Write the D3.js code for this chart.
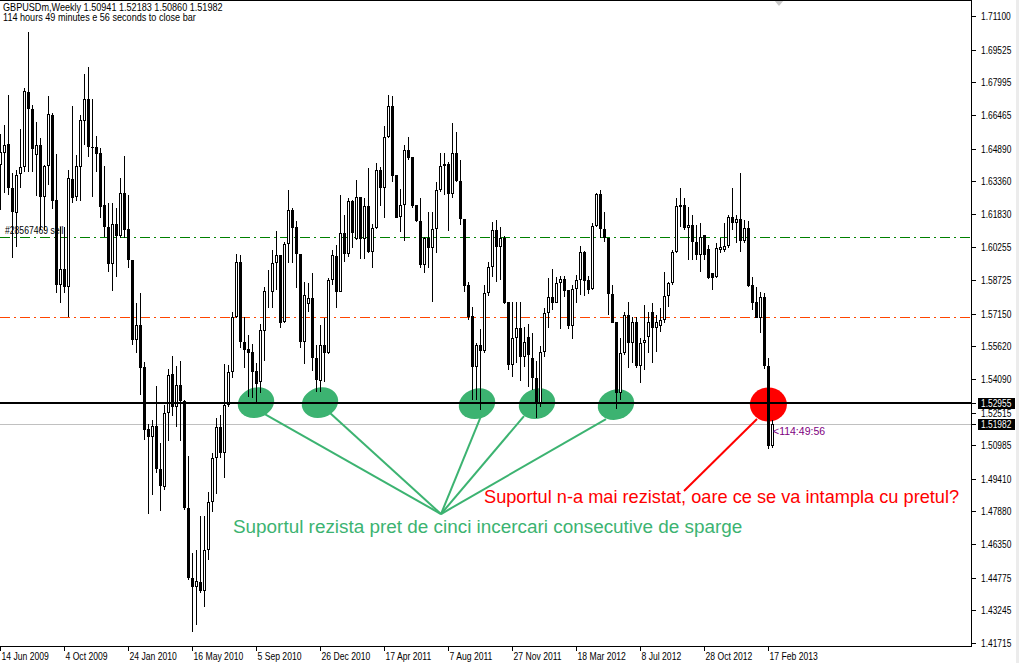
<!DOCTYPE html>
<html>
<head>
<meta charset="utf-8">
<script src="https://cdn.jsdelivr.net/npm/d3@7"></script>
<style>
  body { margin: 0; background: #fff; overflow: hidden; }
  svg { display: block; }
</style>
</head>
<body>
<svg id="chart" width="1019" height="663"></svg>
<script>
// GBPUSDm weekly candles, 14 Jun 2009 -> 24 Feb 2013 (one bar per week)
const openP = [
  1.6412,1.6468,1.6510,1.6304,1.6187,1.6369,1.6402,1.6754,1.6674,1.6459,
  1.6506,1.6262,1.6407,1.6647,1.6248,1.5850,1.5924,1.5840,1.6346,1.6262,
  1.6402,1.6618,1.6721,1.6496,1.6496,1.6468,1.6225,1.6121,1.5947,1.6135,
  1.6079,1.6281,1.6112,1.5966,1.5591,1.5662,1.5465,1.5175,1.5137,1.5188,
  1.4987,1.4902,1.5249,1.5432,1.5277,1.5381,1.5306,1.4804,1.4476,1.4434,
  1.4457,1.4415,1.4607,1.4832,1.5039,1.5184,1.5062,1.5287,1.5442,1.5699,
  1.5957,1.5582,1.5549,1.5536,1.5446,1.5395,1.5634,1.5817,1.5817,1.5952,
  1.5990,1.5676,1.6041,1.6201,1.6121,1.5995,1.5582,1.5760,1.5789,1.5507,
  1.5399,1.5568,1.5531,1.5873,1.5985,1.5817,1.6093,1.5995,1.6243,1.6065,
  1.6262,1.6065,1.6220,1.6004,1.6116,1.6388,1.6304,1.6543,1.6688,1.6365,
  1.6168,1.6225,1.6482,1.6449,1.6225,1.6149,1.5943,1.6069,1.6023,1.6112,
  1.6295,1.6407,1.6416,1.6276,1.6468,1.6337,1.6159,1.5850,1.5704,1.5465,
  1.5568,1.5540,1.5812,1.5934,1.6107,1.6027,1.6069,1.5770,1.5474,1.5601,
  1.5648,1.5512,1.5606,1.5507,1.5414,1.5296,1.5536,1.5718,1.5793,1.5765,
  1.5859,1.5878,1.5826,1.5657,1.5831,1.5873,1.6004,1.5873,1.5831,1.6126,
  1.6276,1.6112,1.6069,1.5807,1.5676,1.5343,1.5531,1.5709,1.5578,1.5676,
  1.5470,1.5578,1.5606,1.5723,1.5648,1.5657,1.5685,1.5798,1.5859,1.6004,
  1.6215,1.6225,1.6116,1.6130,1.6051,1.5990,1.6084,1.6018,1.5906,1.5887,
  1.6013,1.6013,1.6032,1.6168,1.6140,1.6159,1.6055,1.6116,1.5850,1.5770,
  1.5695,1.5793,1.5470,1.50941
];
const highP = [
  1.6557,1.6600,1.6740,1.6374,1.6388,1.6581,1.6773,1.7035,1.6693,1.6614,
  1.6539,1.6412,1.6735,1.6656,1.6463,1.6121,1.6121,1.6388,1.6688,1.6459,
  1.6647,1.6838,1.6871,1.6721,1.6548,1.6491,1.6407,1.6234,1.6234,1.6210,
  1.6351,1.6454,1.6272,1.5966,1.5765,1.5812,1.5488,1.5198,1.5216,1.5376,
  1.5109,1.5287,1.5456,1.5517,1.5470,1.5493,1.5310,1.5048,1.4593,1.4607,
  1.4767,1.4767,1.4879,1.5062,1.5226,1.5240,1.5479,1.5474,1.5723,1.5995,
  1.5990,1.5699,1.5615,1.5573,1.5484,1.5667,1.5840,1.5920,1.6013,1.6102,
  1.5990,1.6051,1.6295,1.6210,1.6149,1.5995,1.5864,1.5859,1.5906,1.5568,
  1.5662,1.5695,1.5882,1.6013,1.6037,1.6272,1.6177,1.6257,1.6248,1.6341,
  1.6262,1.6257,1.6398,1.6135,1.6421,1.6402,1.6595,1.6740,1.6735,1.6365,
  1.6299,1.6506,1.6543,1.6449,1.6225,1.6257,1.6074,1.6192,1.6192,1.6332,
  1.6468,1.6468,1.6426,1.6609,1.6566,1.6435,1.6159,1.5864,1.5746,1.5578,
  1.5643,1.5850,1.5957,1.6145,1.6154,1.6121,1.6079,1.5770,1.5770,1.5770,
  1.5770,1.5653,1.5667,1.5624,1.5493,1.5564,1.5742,1.5882,1.5924,1.5887,
  1.5892,1.5892,1.5826,1.5850,1.5896,1.6032,1.6009,1.5892,1.6140,1.6281,
  1.6295,1.6192,1.6069,1.5850,1.5676,1.5601,1.5723,1.5770,1.5699,1.5699,
  1.5601,1.5756,1.5723,1.5765,1.5709,1.5742,1.5910,1.5864,1.6013,1.6257,
  1.6304,1.6257,1.6215,1.6177,1.6130,1.6140,1.6084,1.6037,1.5906,1.6046,
  1.6069,1.6140,1.6177,1.6304,1.6177,1.6374,1.6154,1.6149,1.5887,1.5840,
  1.5817,1.5812,1.5507,1.52183
];
const lowP = [
  1.6201,1.6281,1.6272,1.5976,1.6027,1.6304,1.6379,1.6379,1.6379,1.6267,
  1.6107,1.6107,1.6318,1.6206,1.5812,1.5765,1.5812,1.5699,1.6234,1.6243,
  1.6243,1.6506,1.6449,1.6262,1.6379,1.6163,1.6074,1.5910,1.5821,1.5887,
  1.6069,1.6069,1.5929,1.5568,1.5531,1.5334,1.5123,1.4776,1.4865,1.4968,
  1.4790,1.4888,1.5118,1.5235,1.5184,1.5118,1.4795,1.4467,1.4223,1.4256,
  1.4406,1.4340,1.4560,1.4785,1.4870,1.5039,1.4945,1.5277,1.5414,1.5695,
  1.5554,1.5460,1.5324,1.5320,1.5296,1.5343,1.5493,1.5742,1.5742,1.5826,
  1.5648,1.5671,1.5952,1.5952,1.5835,1.5554,1.5479,1.5723,1.5446,1.5348,
  1.5348,1.5395,1.5526,1.5850,1.5742,1.5817,1.5957,1.5981,1.6023,1.6060,
  1.5971,1.5971,1.5999,1.5929,1.6112,1.6220,1.6163,1.6539,1.6332,1.6163,
  1.6098,1.6055,1.6435,1.6210,1.6145,1.5929,1.5906,1.5929,1.5770,1.5999,
  1.6285,1.6272,1.6102,1.6257,1.6332,1.6130,1.5817,1.5685,1.5310,1.5310,
  1.5263,1.5531,1.5798,1.5887,1.5864,1.5873,1.5760,1.5451,1.5418,1.5484,
  1.5399,1.5465,1.5371,1.5357,1.5226,1.5277,1.5512,1.5648,1.5732,1.5765,
  1.5643,1.5793,1.5643,1.5596,1.5765,1.5803,1.5798,1.5807,1.5826,1.6121,
  1.6069,1.6051,1.5709,1.5671,1.5268,1.5310,1.5521,1.5460,1.5484,1.5460,
  1.5390,1.5451,1.5531,1.5484,1.5536,1.5629,1.5671,1.5746,1.5850,1.5999,
  1.6121,1.6107,1.5966,1.5966,1.5966,1.5910,1.5966,1.5878,1.5826,1.5882,
  1.5999,1.6004,1.6023,1.6107,1.6046,1.6004,1.6046,1.5840,1.5732,1.5695,
  1.5624,1.5456,1.5081,1.50860
];
const closeP = [
  1.6473,1.6506,1.6304,1.6192,1.6365,1.6402,1.6758,1.6674,1.6487,1.6506,
  1.6262,1.6407,1.6651,1.6243,1.5850,1.5924,1.5840,1.6351,1.6257,1.6407,
  1.6623,1.6721,1.6496,1.6491,1.6463,1.6215,1.6121,1.5947,1.6135,1.6079,
  1.6281,1.6107,1.5966,1.5591,1.5662,1.5460,1.5170,1.5137,1.5188,1.4987,
  1.4907,1.5249,1.5428,1.5277,1.5381,1.5306,1.4804,1.4476,1.4434,1.4462,
  1.4415,1.4607,1.4832,1.5039,1.5184,1.5062,1.5287,1.5442,1.5699,1.5957,
  1.5582,1.5545,1.5531,1.5442,1.5385,1.5638,1.5821,1.5821,1.5952,1.5990,
  1.5671,1.6041,1.6201,1.6116,1.5995,1.5582,1.5803,1.5789,1.5507,1.5404,
  1.5568,1.5531,1.5873,1.5990,1.5817,1.6093,1.5995,1.6243,1.6093,1.6262,
  1.6065,1.6220,1.6004,1.6116,1.6388,1.6304,1.6543,1.6688,1.6360,1.6163,
  1.6225,1.6482,1.6445,1.6220,1.6149,1.5943,1.6069,1.6023,1.6112,1.6295,
  1.6407,1.6416,1.6276,1.6468,1.6337,1.6159,1.5845,1.5699,1.5465,1.5568,
  1.5540,1.5812,1.5934,1.6107,1.6027,1.6069,1.5765,1.5474,1.5601,1.5648,
  1.5512,1.5582,1.5521,1.5414,1.5296,1.5536,1.5718,1.5793,1.5765,1.5859,
  1.5878,1.5821,1.5657,1.5831,1.5873,1.6004,1.5868,1.5826,1.6126,1.6276,
  1.6112,1.6069,1.5807,1.5671,1.5343,1.5531,1.5709,1.5578,1.5676,1.5470,
  1.5578,1.5591,1.5676,1.5648,1.5676,1.5685,1.5798,1.5859,1.6004,1.6220,
  1.6225,1.6116,1.6130,1.6051,1.5990,1.6074,1.5990,1.5882,1.5882,1.6023,
  1.6027,1.6032,1.6168,1.6140,1.6159,1.6055,1.6116,1.5845,1.5765,1.5695,
  1.5793,1.5470,1.5094,1.51982
];

const dateLabels = ["14 Jun 2009","4 Oct 2009","24 Jan 2010","16 May 2010","5 Sep 2010",
  "26 Dec 2010","17 Apr 2011","7 Aug 2011","27 Nov 2011","18 Mar 2012","8 Jul 2012",
  "28 Oct 2012","17 Feb 2013"];
const priceTicks = [1.71100,1.69525,1.67995,1.66465,1.64890,1.63360,1.61830,1.60255,
  1.58725,1.57150,1.55620,1.54090,1.52515,1.50985,1.49410,1.47880,1.46350,1.44775,
  1.43245,1.41715];

const supportPrice = 1.52955;
const bidPrice = 1.51982;
const orderPrice = 1.6072;   // #28567469 sell
const stopPrice = 1.5699;

// touches of the support: [bar index, price]
const touches = [[64, 1.5298], [80, 1.5298], [119.25, 1.5293], [134.25, 1.5293], [154, 1.5289]];
const lineStarts = [[65.75, 1.5249], [82.5, 1.5249], [120.25, 1.5235], [131, 1.5235], [151.5, 1.5221]];
const lineJoin = [110.25, 1.4776];
const breakPoint = [192.1, 1.5289];
const redLine = [[189.25, 1.5221], [171, 1.4884]];

const svg = d3.select("#chart");
const plotW = 971, plotH = 646;

const x = d3.scaleLinear().domain([0, 242.75]).range([0, plotW]);
const y = d3.scaleLinear().domain([1.41715, 1.711]).range([643, 16]);

const bars = d3.range(openP.length).map(i => ({
  i: i, o: openP[i], h: highP[i], l: lowP[i], c: closeP[i]
}));

svg.append("rect").attr("width", 1019).attr("height", 663).attr("fill", "#fff");
svg.append("rect").attr("x", 1016).attr("width", 3).attr("height", 663).attr("fill", "#ececec");

svg.append("clipPath").attr("id", "plot")
  .append("rect").attr("width", plotW).attr("height", plotH);
const g = svg.append("g").attr("clip-path", "url(#plot)");

const font = "'Liberation Sans', Arial, sans-serif";

function smallText(sel, tx, ty, txt, sx) {
  return sel.append("text")
    .attr("transform", "translate(" + tx + "," + ty + ") scale(" + sx + ",1)")
    .attr("font-family", font)
    .attr("font-size", 10.5)
    .text(txt);
}

// order lines (dash dot)
const ry = v => Math.round(y(v)) + 0.5;
g.append("line").attr("x1", 0).attr("x2", plotW).attr("y1", ry(orderPrice)).attr("y2", ry(orderPrice))
  .attr("stroke", "#008000").attr("stroke-dasharray", "10,4,2,4");
g.append("line").attr("x1", 0).attr("x2", plotW).attr("y1", ry(stopPrice)).attr("y2", ry(stopPrice))
  .attr("stroke", "#ff4500").attr("stroke-dasharray", "10,4,2,4");
smallText(g, 5, ry(orderPrice) - 4, "#28567469 sell", 0.82);

// bid line
g.append("line").attr("x1", 0).attr("x2", plotW).attr("y1", ry(bidPrice)).attr("y2", ry(bidPrice))
  .attr("stroke", "#c0c0c0");

// ellipses behind the bars
g.selectAll("ellipse.touch").data(touches).join("ellipse")
  .attr("class", "touch")
  .attr("transform", d => "translate(" + x(d[0]) + "," + y(d[1]) + ") rotate(-18)")
  .attr("rx", 18.5).attr("ry", 15)
  .attr("fill", "#3cb371");
g.append("ellipse")
  .attr("cx", x(breakPoint[0])).attr("cy", y(breakPoint[1]))
  .attr("rx", 18.5).attr("ry", 17)
  .attr("fill", "#ff0000");

// candles
const cg = g.append("g");
cg.selectAll("rect.wick").data(bars).join("rect")
  .attr("class", "wick")
  .attr("x", d => x(d.i))
  .attr("y", d => Math.round(y(d.h)))
  .attr("width", 1)
  .attr("height", d => Math.max(1, Math.round(y(d.l)) - Math.round(y(d.h))))
  .attr("fill", "#000");

const up = bars.filter(d => d.c >= d.o);
const down = bars.filter(d => d.c < d.o);

cg.selectAll("rect.down").data(down).join("rect")
  .attr("class", "down")
  .attr("x", d => x(d.i) - 1)
  .attr("y", d => Math.round(y(d.o)))
  .attr("width", 3)
  .attr("height", d => Math.max(1, Math.round(y(d.c)) - Math.round(y(d.o))))
  .attr("fill", "#000");

cg.selectAll("rect.up").data(up).join("rect")
  .attr("class", "up")
  .attr("x", d => x(d.i) - 0.5)
  .attr("y", d => Math.round(y(d.c)) + 0.5)
  .attr("width", 2)
  .attr("height", d => Math.max(0, Math.round(y(d.o)) - Math.round(y(d.c)) - 1))
  .attr("fill", "#fff")
  .attr("stroke", "#000");

// support line
g.append("line").attr("x1", 0).attr("x2", plotW)
  .attr("y1", Math.round(y(supportPrice))).attr("y2", Math.round(y(supportPrice)))
  .attr("stroke", "#000").attr("stroke-width", 2);

// annotation lines
g.selectAll("line.conn").data(lineStarts).join("line")
  .attr("class", "conn")
  .attr("x1", d => x(d[0])).attr("y1", d => y(d[1]))
  .attr("x2", x(lineJoin[0])).attr("y2", y(lineJoin[1]))
  .attr("stroke", "#3cb371").attr("stroke-width", 2);
g.append("line")
  .attr("x1", x(redLine[0][0])).attr("y1", y(redLine[0][1]))
  .attr("x2", x(redLine[1][0])).attr("y2", y(redLine[1][1]))
  .attr("stroke", "#ff0000").attr("stroke-width", 2);

g.append("text").attr("x", 484).attr("y", 503)
  .attr("font-family", font).attr("font-size", 18.2).attr("fill", "#ff0000")
  .text("Suportul n-a mai rezistat, oare ce se va intampla cu pretul?");
g.append("text").attr("x", 233).attr("y", 533)
  .attr("font-family", font).attr("font-size", 18.9).attr("fill", "#3cb371")
  .text("Suportul rezista pret de cinci incercari consecutive de sparge");

// bid countdown
g.append("text").attr("x", x(193) + 1).attr("y", y(bidPrice) + 11)
  .attr("font-family", font).attr("font-size", 10.5).attr("fill", "#800080")
  .text("<114:49:56");

// chart shift marker
g.append("path").attr("d", "M774,0 L784,0 L779,6 Z").attr("fill", "#c8c8c8");

// header
const hd = svg.append("g").attr("fill", "#000");
hd.append("text").attr("transform", "translate(3,10.5) scale(0.91,1)")
  .attr("font-family", font).attr("font-size", 10)
  .text("GBPUSDm,Weekly  1.50941 1.52183 1.50860 1.51982");
hd.append("text").attr("transform", "translate(3,21) scale(0.91,1)")
  .attr("font-family", font).attr("font-size", 10)
  .text("114 hours 49 minutes e 56 seconds to close bar");

// frame
svg.append("line").attr("x1", 0).attr("x2", plotW + 1).attr("y1", 0.5).attr("y2", 0.5).attr("stroke", "#000");
svg.append("line").attr("x1", plotW + 0.5).attr("x2", plotW + 0.5).attr("y1", 0).attr("y2", plotH + 1).attr("stroke", "#000");
svg.append("line").attr("x1", 0).attr("x2", plotW + 1).attr("y1", plotH + 0.5).attr("y2", plotH + 0.5).attr("stroke", "#000");

// price axis
const pa = svg.append("g");
priceTicks.forEach(p => {
  const yy = Math.round(y(p)) + 0.5;
  pa.append("line").attr("x1", plotW).attr("x2", plotW + 5).attr("y1", yy).attr("y2", yy).attr("stroke", "#000");
  smallText(pa, 981, yy + 3.5, p.toFixed(5), 0.8);
});
[supportPrice, bidPrice].forEach(p => {
  const yy = Math.round(y(p));
  pa.append("line").attr("x1", plotW).attr("x2", plotW + 5).attr("y1", yy + 0.5).attr("y2", yy + 0.5).attr("stroke", "#000");
  pa.append("rect").attr("x", 978).attr("y", yy - 5).attr("width", 37).attr("height", 11).attr("fill", "#000");
  smallText(pa, 981, yy + 4, p.toFixed(5), 0.8).attr("fill", "#fff");
});

// time axis
const ta = svg.append("g");
dateLabels.forEach((lab, j) => {
  const xx = x(j * 16) + 0.5;
  ta.append("line").attr("x1", xx).attr("x2", xx).attr("y1", plotH).attr("y2", plotH + 5).attr("stroke", "#000");
  smallText(ta, xx + 1, 660, lab, 0.82);
});
</script>
</body>
</html>
